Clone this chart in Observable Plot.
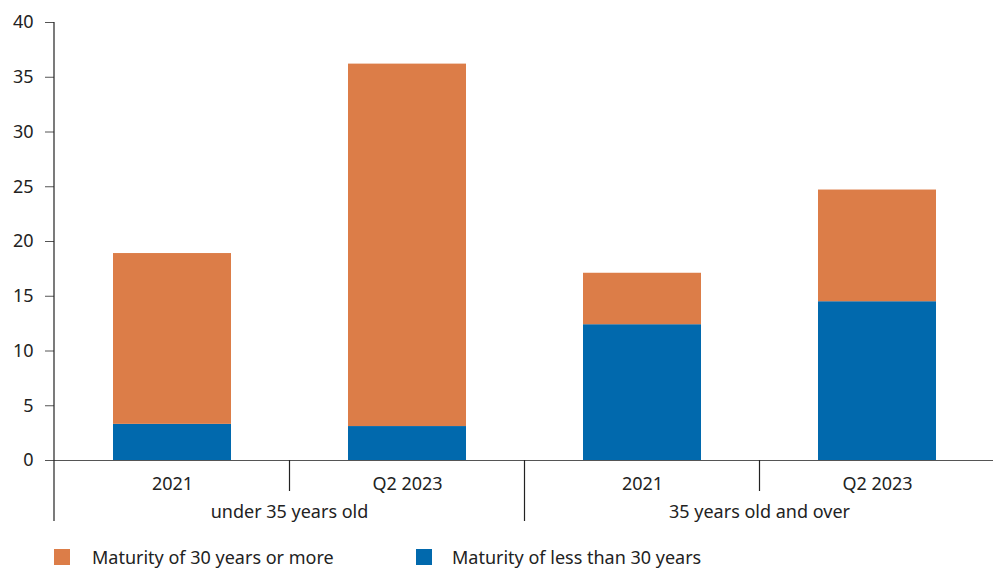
<!DOCTYPE html>
<html>
<head>
<meta charset="utf-8">
<script src="https://cdn.jsdelivr.net/npm/d3@7"></script>
<script src="https://cdn.jsdelivr.net/npm/@observablehq/plot@0.6"></script>
<style>
  body { margin: 0; background: #fff; font-family: "Noto Sans", sans-serif; color: #222; }
  #chart { width: 993px; }
  .legend { position: relative; height: 39px; font-size: 18px; }
  .legend .sw { width: 16px; height: 16px; position: absolute; }
  .legend .lbl { position: absolute; white-space: nowrap; line-height: 18px; }
</style>
</head>
<body>
<div id="chart"></div>
<script>
// Age groups and periods on the x axis
const groups = ["under 35 years old", "35 years old and over"];
const periods = ["2021", "Q2 2023"];
// Share of new mortgages by maturity (per cent), in group/period order
const shortMaturity = [3.3, 3.1, 12.4, 14.5];  // less than 30 years
const longMaturity = [15.6, 33.1, 4.7, 10.2];  // 30 years or more
const seriesNames = ["Maturity of less than 30 years", "Maturity of 30 years or more"];
const seriesColors = ["#0169ad", "#dc7d48"];
const yTicks = [0, 5, 10, 15, 20, 25, 30, 35, 40];

const keys = [];
groups.forEach((g, gi) => periods.forEach((p, pi) => keys.push({key: `${gi}|${pi}`, group: g, period: p})));

const rows = [];
keys.forEach((k, i) => rows.push({key: k.key, series: seriesNames[0], value: shortMaturity[i]}));
keys.forEach((k, i) => rows.push({key: k.key, series: seriesNames[1], value: longMaturity[i]}));

const W = 993, H = 530;
const font = '"Noto Sans", sans-serif';

const chart = Plot.plot({
  width: W,
  height: H,
  marginLeft: 54,
  marginRight: -1,
  marginTop: 22,
  marginBottom: 70,
  style: {fontFamily: font, fontSize: "18px", color: "#222", background: "#fff", overflow: "visible"},
  x: {domain: keys.map(k => k.key), paddingInner: 0.5, paddingOuter: 0.25},
  y: {domain: [0, 40]},
  color: {domain: seriesNames, range: seriesColors},
  marks: [
    Plot.barY(rows, Plot.stackY({x: "key", y: "value", fill: "series", order: null})),
    Plot.ruleY([0], {stroke: "#555", strokeWidth: 1.2}),
    Plot.axisY({ticks: yTicks, tickSize: 9, tickPadding: 12, label: null, stroke: "#555", fill: "#222", strokeOpacity: 1}),
    Plot.axisX({tickSize: 0, tickPadding: 17, label: null, fill: "#222",
      tickFormat: d => keys.find(k => k.key === d).period})
  ]
});

document.getElementById("chart").appendChild(chart);

// Axis line and group separators, placed from the plot's own scales
const xs = chart.scale("x");
const ys = chart.scale("y");
const svg = d3.select(chart);
const y0 = ys.apply(0);
const left = xs.range[0];
const step = xs.step;
const firstBand = xs.apply(keys[0].key) - (step - xs.bandwidth) / 2;
const g = svg.append("g").attr("stroke", "#222").attr("stroke-width", 1.2);

g.append("line").attr("x1", left).attr("x2", left)
  .attr("y1", ys.apply(40)).attr("y2", y0 + 61);

keys.forEach((k, i) => {
  if (i === 0) return;
  const x = firstBand + step * i;
  const isGroupEdge = i % periods.length === 0;
  g.append("line").attr("x1", x).attr("x2", x)
    .attr("y1", y0).attr("y2", y0 + (isGroupEdge ? 61 : 31));
});

groups.forEach((name, gi) => {
  const cx = firstBand + step * (gi * periods.length + periods.length / 2);
  svg.append("text")
    .attr("x", cx).attr("y", y0 + 58)
    .attr("text-anchor", "middle")
    .attr("fill", "#222")
    .attr("font-family", font)
    .attr("font-size", 18)
    .text(name);
});

// Legend below the chart
const legend = d3.select("body").append("div").attr("class", "legend");
const legendOrder = [1, 0];
const legendX = [[54, 92], [416, 452]];
legendOrder.forEach((s, i) => {
  legend.append("span").attr("class", "sw")
    .style("left", legendX[i][0] + "px").style("top", "19px")
    .style("background", seriesColors[s]);
  legend.append("span").attr("class", "lbl")
    .style("left", legendX[i][1] + "px").style("top", "18px")
    .text(seriesNames[s]);
});
</script>
</body>
</html>
